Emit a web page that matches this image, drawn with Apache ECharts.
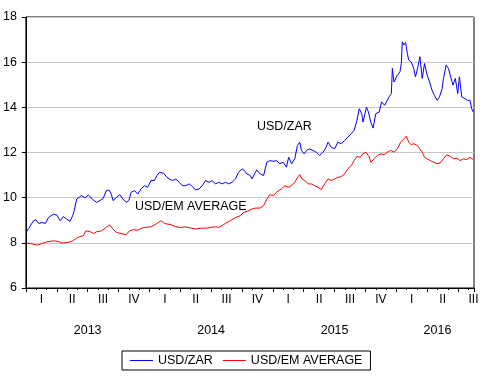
<!DOCTYPE html>
<html>
<head>
<meta charset="utf-8">
<script src="https://cdn.jsdelivr.net/npm/echarts@6/dist/echarts.min.js"></script>
<style>
html,body{margin:0;padding:0;background:#fff;}
#chart{width:493px;height:390px;}
</style>
</head>
<body>
<div id="chart"></div>
<script>
// ---------------- DATA ----------------
const seriesNames = ['USD/ZAR', 'USD/EM AVERAGE'];
const yearLabels = ['2013', '2014', '2015', '2016'];
const quarterLabels = ['I', 'II', 'III', 'IV'];
const startDate = '2013-01-01';
const endDate = '2016-08-18';

const zarDates = [
'2013-01-03','2013-01-10','2013-01-24','2013-01-31','2013-02-08','2013-02-17','2013-02-26','2013-03-07','2013-03-22','2013-04-01',
'2013-04-11','2013-04-16','2013-04-20','2013-04-30','2013-05-10','2013-05-20','2013-05-30','2013-06-04','2013-06-13','2013-06-23',
'2013-07-03','2013-07-08','2013-07-18','2013-07-28','2013-08-07','2013-08-17','2013-08-26','2013-09-03','2013-09-10','2013-09-15',
'2013-09-25','2013-10-05','2013-10-14','2013-10-24','2013-11-01','2013-11-08','2013-11-18','2013-11-27','2013-12-07','2013-12-17',
'2013-12-27','2014-01-06','2014-01-16','2014-01-24','2014-01-31','2014-02-04','2014-02-12','2014-02-21','2014-02-27','2014-03-09',
'2014-03-19','2014-03-29','2014-04-07','2014-04-17','2014-04-27','2014-05-07','2014-05-16','2014-05-27','2014-06-05','2014-06-15',
'2014-06-25','2014-07-04','2014-07-14','2014-07-24','2014-08-03','2014-08-13','2014-08-23','2014-09-02','2014-09-12','2014-09-21',
'2014-10-01','2014-10-08','2014-10-16','2014-10-26','2014-10-31','2014-11-10','2014-11-14','2014-11-24','2014-12-04','2014-12-14',
'2014-12-23','2015-01-03','2015-01-12','2015-01-22','2015-02-01','2015-02-10','2015-02-16','2015-02-24','2015-03-05','2015-03-13',
'2015-03-20','2015-03-25','2015-04-02','2015-04-09','2015-04-18','2015-04-28','2015-05-08','2015-05-18','2015-05-28','2015-06-04',
'2015-06-12','2015-06-21','2015-07-01','2015-07-11','2015-07-21','2015-07-31','2015-08-10','2015-08-20','2015-08-29','2015-09-06',
'2015-09-13','2015-09-20','2015-09-24','2015-10-04','2015-10-10','2015-10-17','2015-10-24','2015-11-01','2015-11-11','2015-11-18',
'2015-11-27','2015-12-10','2015-12-17','2015-12-20','2015-12-25','2016-01-04','2016-01-12','2016-01-16','2016-01-19','2016-01-24',
'2016-01-29','2016-02-03','2016-02-07','2016-02-14','2016-02-21','2016-02-26','2016-03-04','2016-03-10','2016-03-17','2016-03-24',
'2016-04-01','2016-04-08','2016-04-15','2016-04-22','2016-04-30','2016-05-07','2016-05-15','2016-05-19','2016-05-27','2016-06-03',
'2016-06-08','2016-06-16','2016-06-23','2016-06-30','2016-07-05','2016-07-12','2016-07-22','2016-07-29','2016-08-06','2016-08-11',
'2016-08-16'
];
const zarValues = [
8.49,8.65,8.98,9.02,8.86,8.90,8.86,9.12,9.27,9.23,
8.98,8.90,9.16,9.05,8.95,9.27,9.94,10.01,10.09,9.99,
10.12,10.06,9.90,9.79,9.87,9.97,10.31,10.34,10.16,9.87,
10.01,10.13,9.94,9.79,9.87,10.24,10.31,10.16,10.39,10.53,
10.46,10.76,10.76,10.98,11.12,11.20,11.08,10.90,10.83,10.76,
10.83,10.68,10.53,10.53,10.61,10.49,10.34,10.39,10.53,10.76,
10.68,10.76,10.61,10.68,10.61,10.68,10.61,10.68,10.83,11.12,
11.28,11.20,11.05,10.98,10.83,11.12,11.23,11.05,10.98,11.57,
11.64,11.61,11.64,11.50,11.57,11.35,11.79,11.50,11.72,12.31,
12.46,12.09,11.94,12.09,12.16,12.09,12.01,11.87,12.01,12.16,
12.46,12.24,12.16,12.46,12.39,12.53,12.68,12.83,12.98,13.42,
13.94,13.72,13.35,14.01,13.79,13.35,13.08,13.72,13.79,14.24,
14.09,14.46,14.61,15.72,15.12,15.42,15.57,15.94,16.90,16.76,
16.87,16.39,16.09,16.01,15.72,15.35,15.79,16.24,15.28,15.94,
15.42,15.12,14.76,14.53,14.31,14.46,14.83,15.28,15.87,15.72,
15.79,14.98,15.28,14.61,15.35,14.46,14.39,14.31,14.31,13.94,
13.79
];

const emDates = [
'2013-01-03','2013-01-15','2013-02-03','2013-02-17','2013-03-02','2013-03-22','2013-04-06','2013-04-16','2013-04-30','2013-05-15',
'2013-05-30','2013-06-09','2013-06-18','2013-06-26','2013-07-08','2013-07-18','2013-07-28','2013-08-12','2013-08-26','2013-09-05',
'2013-09-15','2013-09-25','2013-10-09','2013-10-24','2013-11-03','2013-11-13','2013-11-27','2013-12-10','2013-12-17','2014-01-06',
'2014-01-21','2014-02-04','2014-02-14','2014-03-04','2014-03-19','2014-04-03','2014-04-17','2014-05-02','2014-05-16','2014-05-31',
'2014-06-15','2014-06-30','2014-07-14','2014-07-24','2014-08-03','2014-08-13','2014-08-28','2014-09-12','2014-09-26','2014-10-06',
'2014-10-21','2014-10-31','2014-11-10','2014-11-14','2014-11-24','2014-12-04','2014-12-14','2014-12-23','2015-01-03','2015-01-12',
'2015-01-27','2015-02-06','2015-02-15','2015-02-24','2015-03-05','2015-03-15','2015-03-20','2015-03-27','2015-04-04','2015-04-14',
'2015-04-23','2015-05-03','2015-05-13','2015-05-23','2015-06-02','2015-06-12','2015-06-21','2015-07-01','2015-07-11','2015-07-21',
'2015-07-31','2015-08-10','2015-08-20','2015-08-29','2015-09-06','2015-09-16','2015-09-23','2015-10-02','2015-10-12','2015-10-17',
'2015-10-27','2015-11-06','2015-11-16','2015-11-25','2015-12-05','2015-12-15','2015-12-25','2016-01-04','2016-01-14','2016-01-24',
'2016-01-31','2016-02-07','2016-02-14','2016-02-21','2016-03-02','2016-03-10','2016-03-17','2016-03-24','2016-04-01','2016-04-10',
'2016-04-20','2016-04-30','2016-05-09','2016-05-19','2016-05-29','2016-06-08','2016-06-18','2016-06-28','2016-07-07','2016-07-17',
'2016-07-27','2016-08-06','2016-08-16'
];
const emValues = [
7.99,7.97,7.90,7.97,8.04,8.09,8.06,7.99,8.01,8.06,
8.21,8.28,8.31,8.53,8.50,8.41,8.49,8.53,8.68,8.80,
8.61,8.46,8.41,8.36,8.53,8.58,8.56,8.65,8.68,8.71,
8.83,8.98,8.86,8.80,8.71,8.68,8.71,8.65,8.61,8.65,
8.65,8.68,8.71,8.68,8.76,8.86,8.98,9.12,9.20,9.35,
9.42,9.50,9.54,9.62,9.54,9.64,9.94,10.13,10.09,10.24,
10.39,10.53,10.46,10.53,10.68,10.93,11.02,10.83,10.76,10.61,
10.61,10.53,10.46,10.36,10.61,10.83,10.76,10.83,10.90,10.93,
11.05,11.28,11.42,11.64,11.82,11.79,11.94,12.01,11.82,11.57,
11.72,11.87,11.94,11.90,12.01,12.09,12.01,12.16,12.46,12.61,
12.72,12.46,12.34,12.39,12.31,12.16,12.01,11.79,11.72,11.64,
11.57,11.50,11.54,11.72,11.90,11.83,11.72,11.75,11.64,11.72,
11.68,11.79,11.68
];

const yMin = 6, yMax = 18, yStep = 2;

// -------------- HELPERS --------------
function toMonths(s) {
  const p = s.split('-').map(Number);
  const s0 = startDate.split('-').map(Number);
  const dim = new Date(p[0], p[1], 0).getDate();
  return (p[0] - s0[0]) * 12 + (p[1] - s0[1]) + (p[2] - 1) / dim;
}
const xMax = toMonths(endDate);
const zarData = zarDates.map((d, i) => [toMonths(d), zarValues[i]]);
const emData = emDates.map((d, i) => [toMonths(d), emValues[i]]);

function yearCenter(i) {
  const a = i * 12;
  const b = Math.min(a + 12, Math.ceil(xMax));
  return Math.round(((a + b) / 2) * 4) / 4;
}
const yearCenters = yearLabels.map((_, i) => yearCenter(i));

const FONT = 'Arial, "Liberation Sans", sans-serif';

const chart = echarts.init(document.getElementById('chart'), null, {renderer: 'canvas'});
chart.setOption({
  animation: false,
  backgroundColor: '#fff',
  grid: {
    left: 22, right: 19, top: 17, bottom: 102,
    show: true, borderColor: '#000', borderWidth: 1, backgroundColor: 'transparent'
  },
  legend: {
    left: 122, top: 351,
    data: seriesNames,
    icon: 'rect',
    itemWidth: 23, itemHeight: 1, itemGap: 10,
    padding: [3, 8, 3, 8],
    borderColor: '#000', borderWidth: 1,
    textStyle: {fontFamily: FONT, fontSize: 12.5, color: '#000'}
  },
  xAxis: [
    {
      type: 'value', min: 0, max: xMax, interval: 3, position: 'bottom',
      axisLine: {show: true, onZero: false, lineStyle: {color: '#000', width: 1}},
      axisTick: {show: true, length: 4, lineStyle: {color: '#000'}},
      minorTick: {show: true, splitNumber: 3, length: 2, lineStyle: {color: '#000'}},
      axisLabel: {show: false},
      splitLine: {show: false}
    },
    {
      type: 'value', min: 0, max: xMax, interval: 1.5, position: 'bottom',
      axisLine: {show: false, onZero: false}, axisTick: {show: false}, splitLine: {show: false},
      axisLabel: {
        show: true, margin: 6, color: '#000', fontFamily: FONT, fontSize: 12,
        showMinLabel: true, showMaxLabel: true,
        formatter: function (v) {
          const k = Math.round(v / 1.5);
          if (Math.abs(v - k * 1.5) > 1e-6 || k % 2 === 0) return '';
          return quarterLabels[Math.floor(v / 3) % 4];
        }
      }
    },
    {
      type: 'value', min: 0, max: xMax, interval: 0.25, position: 'bottom',
      axisLine: {show: false, onZero: false}, axisTick: {show: false}, splitLine: {show: false},
      axisLabel: {
        show: true, margin: 36, color: '#000', fontFamily: FONT, fontSize: 12.5,
        formatter: function (v) {
          for (let i = 0; i < yearCenters.length; i++) {
            if (Math.abs(v - yearCenters[i]) < 1e-6) return yearLabels[i];
          }
          return '';
        }
      }
    }
  ],
  yAxis: {
    type: 'value', min: yMin, max: yMax, interval: yStep,
    axisLine: {show: true, lineStyle: {color: '#000', width: 1}},
    axisTick: {show: true, length: 4, lineStyle: {color: '#000'}},
    axisLabel: {color: '#000', fontFamily: FONT, fontSize: 12.5, margin: 9},
    splitLine: {show: true, lineStyle: {color: '#c8c8c8', width: 1}}
  },
  graphic: [
    {type: 'text', left: 257, top: 120, style: {text: 'USD/ZAR', fill: '#000', font: '12.5px ' + FONT}},
    {type: 'text', left: 135, top: 200, style: {text: 'USD/EM AVERAGE', fill: '#000', font: '12.5px ' + FONT}}
  ],
  series: [
    {
      name: seriesNames[0], type: 'line', xAxisIndex: 0, yAxisIndex: 0,
      data: zarData, showSymbol: false, symbol: 'none',
      lineStyle: {color: '#0000ff', width: 1}, itemStyle: {color: '#0000ff'}
    },
    {
      name: seriesNames[1], type: 'line', xAxisIndex: 0, yAxisIndex: 0,
      data: emData, showSymbol: false, symbol: 'none',
      lineStyle: {color: '#ff0000', width: 1}, itemStyle: {color: '#ff0000'}
    }
  ]
});
</script>
</body>
</html>
